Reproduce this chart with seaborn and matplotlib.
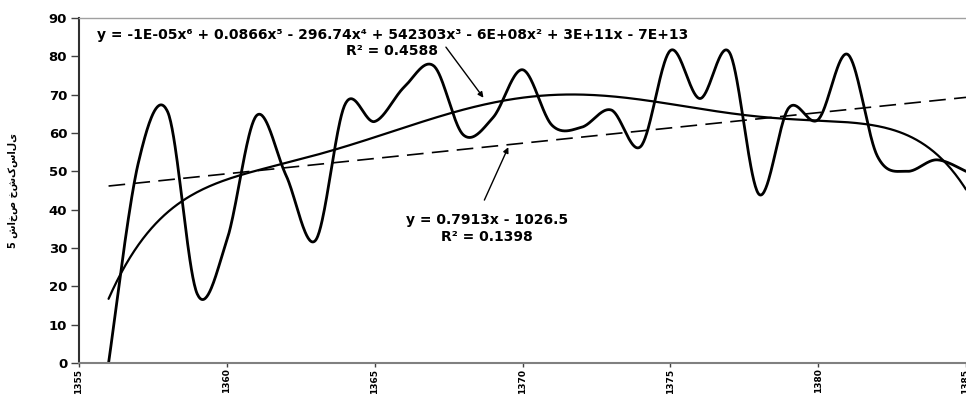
import numpy as np
import pandas as pd
import matplotlib
matplotlib.use("Agg")
import matplotlib.pyplot as plt
import seaborn as sns

# ---- data ----
years = [1356, 1357, 1358, 1359, 1360, 1361, 1362, 1363, 1364, 1365,
         1366, 1367, 1368, 1369, 1370, 1371, 1372, 1373, 1374, 1375,
         1376, 1377, 1378, 1379, 1380, 1381, 1382, 1383, 1384, 1385]
values = [0, 52, 65.5, 18, 32, 64.5, 49, 32, 67.5, 63,
          72, 77.5, 59.5, 64, 76.5, 62, 61.5, 66, 56.5, 81.5,
          69, 81, 44, 66.5, 63.5, 80.5, 54, 50, 53, 50]
x_ticks = [1355, 1360, 1365, 1370, 1375, 1380, 1385]
y_ticks = [0, 10, 20, 30, 40, 50, 60, 70, 80, 90]
y_label = "5 شاخص خشکسالی"
poly_eq = ["y = -1E-05x⁶ + 0.0866x⁵ - 296.74x⁴ + 542303x³ - 6E+08x² + 3E+11x - 7E+13",
           "R² = 0.4588"]
lin_eq = ["y = 0.7913x - 1026.5", "R² = 0.1398"]

sns.set_style("white")
plt.rcParams['font.family'] = ['DejaVu Sans']
plt.rcParams['text.color'] = 'black'
plt.rcParams['axes.labelcolor'] = 'black'
plt.rcParams['xtick.color'] = 'black'
plt.rcParams['ytick.color'] = 'black'


def smooth(x, y, n=40):
    """Excel-like smoothed line (Catmull-Rom through the points)."""
    pts = np.column_stack([x, y]).astype(float)
    P = np.vstack([pts[0], pts, pts[-1]])
    t = np.linspace(0, 1, n, endpoint=False)[:, None]
    segs = []
    for i in range(1, len(P) - 2):
        p0, p1, p2, p3 = P[i - 1], P[i], P[i + 1], P[i + 2]
        seg = 0.5 * ((2 * p1) + (-p0 + p2) * t
                     + (2 * p0 - 5 * p1 + 4 * p2 - p3) * t ** 2
                     + (-p0 + 3 * p1 - 3 * p2 + p3) * t ** 3)
        segs.append(seg)
    segs.append(pts[-1:])
    s = np.vstack(segs)
    return s[:, 0], s[:, 1]


xa = np.array(years, float)
ya = np.array(values, float)
sx, sy = smooth(xa, ya)
df_data = pd.DataFrame({"year": sx, "val": sy})

# trend lines computed from the data
xc = xa.mean()
pcoef = np.polyfit(xa - xc, ya, 6)
lcoef = np.polyfit(xa, ya, 1)
xf = np.linspace(xa[0], xa[-1], 400)
df_poly = pd.DataFrame({"year": xf, "val": np.polyval(pcoef, xf - xc)})
df_lin = pd.DataFrame({"year": xf, "val": np.polyval(lcoef, xf)})

fig = plt.figure(figsize=(9.66, 3.96), dpi=100)
ax = fig.add_axes([79 / 966, 33 / 396, 887 / 966, 345 / 396])

sns.lineplot(data=df_data, x="year", y="val", ax=ax, color="black", lw=2.0,
             sort=False, estimator=None)
sns.lineplot(data=df_poly, x="year", y="val", ax=ax, color="black", lw=1.6,
             sort=False, estimator=None)
sns.lineplot(data=df_lin, x="year", y="val", ax=ax, color="black", lw=1.2,
             sort=False, estimator=None, dashes=False, linestyle=(0, (10, 5)))

ax.set_xlim(1355, 1384.67)
ax.set_ylim(0, 90)
ax.set_xticks(x_ticks)
ax.set_xticklabels([str(v) for v in x_ticks], rotation=90, fontsize=6.5,
                   fontweight="bold")
ax.set_yticks(y_ticks)
ax.set_yticklabels([str(v) for v in y_ticks], fontsize=9.5, fontweight="bold")
ax.tick_params(axis="y", direction="out", length=5.5, width=1, color="#404040",
               pad=3, left=True)
ax.tick_params(axis="x", direction="out", length=3, width=1, color="#404040",
               pad=1, bottom=True)
ax.set_xlabel("")
ax.set_ylabel(y_label, fontsize=7, fontweight="bold", labelpad=22)

for side in ["left", "bottom", "top"]:
    ax.spines[side].set_visible(True)
ax.spines["left"].set_color("#303030")
ax.spines["left"].set_linewidth(1.5)
ax.spines["bottom"].set_color("#808080")
ax.spines["bottom"].set_linewidth(1.5)
ax.spines["top"].set_color("#a0a0a0")
ax.spines["top"].set_linewidth(1.0)
ax.spines["right"].set_visible(False)

# equations
ax.text(1365.6, 85.6, poly_eq[0], ha="center", va="center", fontsize=10,
        fontweight="bold")
ax.text(1365.6, 81.3, poly_eq[1], ha="center", va="center", fontsize=10,
        fontweight="bold")
ax.text(1368.8, 37.3, lin_eq[0], ha="center", va="center", fontsize=10,
        fontweight="bold")
ax.text(1368.8, 32.8, lin_eq[1], ha="center", va="center", fontsize=10,
        fontweight="bold")

arrow = dict(arrowstyle="-|>", color="black", lw=1.0, mutation_scale=8,
             shrinkA=0, shrinkB=0)
ax.annotate("", xy=(1368.68, 69.2), xytext=(1367.41, 82.4), arrowprops=arrow)
ax.annotate("", xy=(1369.52, 56.3), xytext=(1368.71, 42.5), arrowprops=arrow)

fig.savefig("out.png", dpi=100)
